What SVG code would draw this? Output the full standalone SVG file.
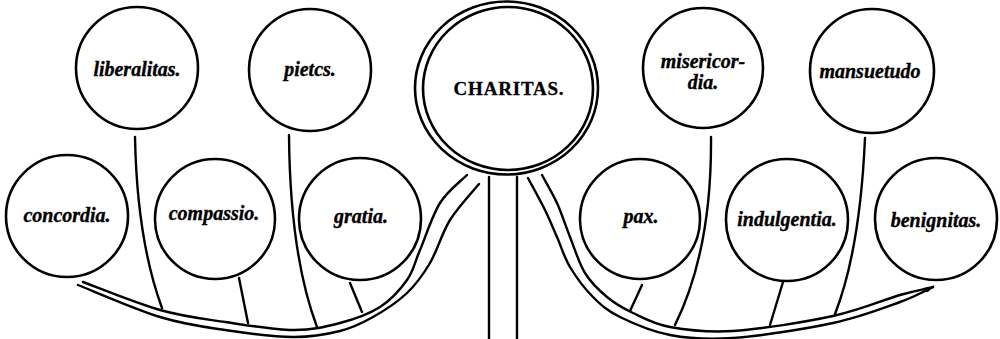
<svg xmlns="http://www.w3.org/2000/svg" width="1000" height="339" viewBox="0 0 1000 339">
<style>
.ring{fill:none;stroke:#000;stroke-width:2.6}
.ln{fill:none;stroke:#000;stroke-width:2.4;stroke-linecap:round}
.lbl{font-family:"Liberation Serif","DejaVu Serif",serif;font-style:italic;font-weight:bold;font-size:20px;fill:#000;stroke:#000;stroke-width:0.35;text-anchor:middle}
.main{font-family:"Liberation Serif","DejaVu Serif",serif;font-weight:bold;font-size:19px;letter-spacing:0.8px;fill:#000;stroke:#000;stroke-width:0.3;text-anchor:middle}
</style>
<rect width="1000" height="339" fill="#fff"/>
<g id="connectors">
<path class="ln" d="M467,175 C462.5,179.7 447.8,190.5 440,203 C432.2,215.5 425.5,237.2 420,250 C414.5,262.8 413.7,270.5 407,280 C400.3,289.5 391.2,299.8 380,307 C368.8,314.2 354.5,319.2 340,323 C325.5,326.8 312.2,330.2 293,330 C273.8,329.8 247.2,325.3 225,322 C202.8,318.7 183.7,316.7 160,310 C136.3,303.3 95.8,286.7 83,282"/>
<path class="ln" d="M479,184 C474.2,190 458.2,206.8 450,220 C441.8,233.2 437.2,250.8 430,263 C422.8,275.2 416.5,284 407,293 C397.5,302 384.2,310.7 373,317 C361.8,323.3 353.3,327.7 340,331 C326.7,334.3 312.2,337.2 293,337 C273.8,336.8 247.2,333.3 225,330 C202.8,326.7 184.5,324.5 160,317 C135.5,309.5 91.7,290.3 78,285"/>
<path class="ln" d="M528,178 C530.8,183.3 540.2,200.2 545,210 C549.8,219.8 552.8,227.5 557,237 C561.2,246.5 564,257 570,267 C576,277 584.7,288.7 593,297 C601.3,305.3 607.2,310.7 620,317 C632.8,323.3 651.2,331.5 670,335 C688.8,338.5 705.8,340 733,338 C760.2,336 805.2,329 833,323 C860.8,317 883.3,308 900,302 C916.7,296 927.5,289.5 933,287"/>
<path class="ln" d="M542,175 C544.5,179.7 552.3,192.7 557,203 C561.7,213.3 565.3,225.3 570,237 C574.7,248.7 578.8,263 585,273 C591.2,283 599,290.3 607,297 C615,303.7 622.5,308 633,313 C643.5,318 653.3,324 670,327 C686.7,330 705.8,332.8 733,331 C760.2,329.2 805.2,322 833,316 C860.8,310 883.8,299.7 900,295 C916.2,290.3 925,289.2 933,287"/>
<path d="M922,292 L935,285 L928,292 Z" fill="#000"/>
<path class="ln" d="M489,177 L489,339"/>
<path class="ln" d="M517,177 L517,339"/>
<path class="ln" d="M135,137 Q137,240 162,308"/>
<path class="ln" d="M289,135 Q290,255 317,327"/>
<path class="ln" d="M239,278 L248,323"/>
<path class="ln" d="M350,283 L362,312"/>
<path class="ln" d="M642,285 L630,311"/>
<path class="ln" d="M711,137 Q712,250 675,325"/>
<path class="ln" d="M783,282 L770,325"/>
<path class="ln" d="M865,138 Q860,250 835,314"/>
</g>
<g id="charitas">
<ellipse class="ring" cx="506.5" cy="88" rx="91.5" ry="86.5"/>
<ellipse class="ring" cx="508" cy="88.5" rx="85" ry="81.5"/>
<text class="main" x="509" y="95">CHARITAS.</text>
</g>
<g id="liberalitas">
<circle class="ring" cx="137" cy="68" r="61"/>
<text class="lbl" x="137" y="76">liberalitas.</text>
</g>
<g id="pietas">
<circle class="ring" cx="310" cy="70" r="61"/>
<text class="lbl" x="310" y="76">pietcs.</text>
</g>
<g id="concordia">
<circle class="ring" cx="67" cy="216" r="61"/>
<text class="lbl" x="67" y="222">concordia.</text>
</g>
<g id="compassio">
<circle class="ring" cx="215" cy="219" r="60"/>
<text class="lbl" x="214" y="220">compassio.</text>
</g>
<g id="gratia">
<circle class="ring" cx="360" cy="219" r="61"/>
<text class="lbl" x="361" y="223">gratia.</text>
</g>
<g id="misericordia">
<circle class="ring" cx="703" cy="68" r="60"/>
<text class="lbl" x="703" y="68">misericor-</text>
<text class="lbl" x="703" y="89">dia.</text>
</g>
<g id="mansuetudo">
<circle class="ring" cx="872" cy="71" r="62"/>
<text class="lbl" x="870" y="78">mansuetudo</text>
</g>
<g id="pax">
<circle class="ring" cx="640" cy="219" r="60"/>
<text class="lbl" x="641" y="223">pax.</text>
</g>
<g id="indulgentia">
<circle class="ring" cx="787" cy="220" r="61"/>
<text class="lbl" x="787" y="226">indulgentia.</text>
</g>
<g id="benignitas">
<circle class="ring" cx="936" cy="219" r="61"/>
<text class="lbl" x="936" y="227">benignitas.</text>
</g>
</svg>
